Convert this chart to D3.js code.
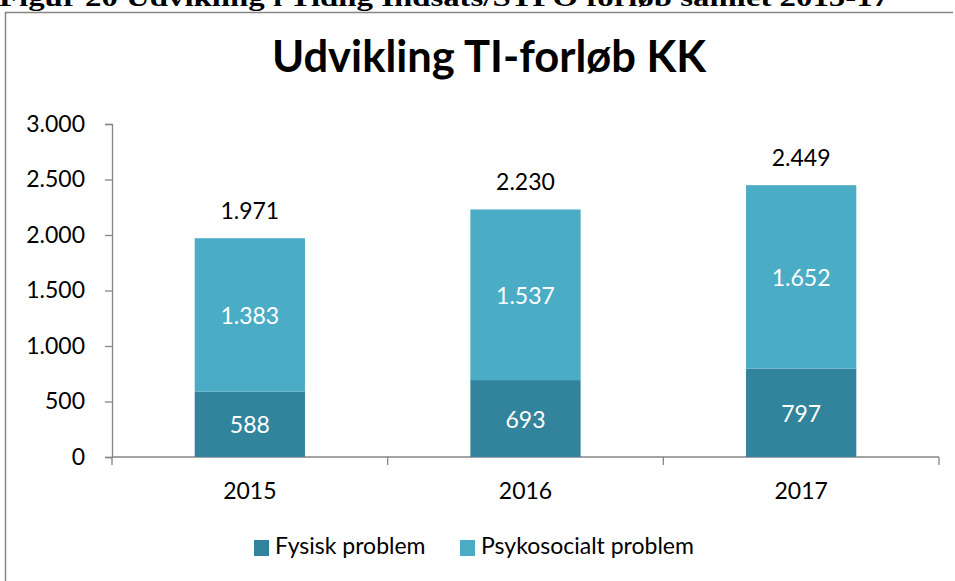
<!DOCTYPE html>
<html>
<head>
<meta charset="utf-8">
<script src="https://cdnjs.cloudflare.com/ajax/libs/d3/7.8.5/d3.min.js"></script>
<style>
  body { margin: 0; background: #fff; }
  text { font-family: Lato, "Open Sans", sans-serif; }
</style>
</head>
<body>
<div id="my_dataviz"></div>
<script>
// values
var data = [
  {year: "2015", fysisk: 588, psyko: 1383},
  {year: "2016", fysisk: 693, psyko: 1537},
  {year: "2017", fysisk: 797, psyko: 1652}
];
var keys = ["fysisk", "psyko"];
var names = {fysisk: "Fysisk problem", psyko: "Psykosocialt problem"};
var colors = {fysisk: "#31849b", psyko: "#4bacc6"};

var W = 955, H = 581;
var margin = {top: 124, right: 16, bottom: 124, left: 112},
    width = 939 - margin.left,
    height = 457 - margin.top;

var dk = d3.formatLocale({decimal: ",", thousands: ".", grouping: [3], currency: ["", " kr"]});
var fmt = dk.format(",d");

var root = d3.select("#my_dataviz")
  .append("svg")
  .attr("width", W)
  .attr("height", H);

// page heading, cut off at the top of the screenshot
root.append("text")
  .attr("x", -1)
  .attr("y", 6)
  .style("font-family", "'Liberation Serif', serif")
  .style("font-weight", "bold")
  .style("font-size", "26px")
  .attr("textLength", 890)
  .attr("lengthAdjust", "spacingAndGlyphs")
  .text("Figur 20 Udvikling i Tidlig Indsats/STPO forløb samlet 2015-17");

// chart frame (only top and left edges are inside the shot)
root.append("path")
  .attr("d", "M5.5,600 V12.5 H953")
  .attr("fill", "none")
  .attr("stroke", "#868686")
  .attr("stroke-width", 1.5);

root.append("text")
  .attr("x", 489)
  .attr("y", 72)
  .attr("text-anchor", "middle")
  .style("font-weight", "bold")
  .style("font-size", "43.5px")
  .text("Udvikling TI-forløb KK");

var svg = root.append("g")
  .attr("transform", "translate(" + margin.left + "," + margin.top + ")");

var x = d3.scaleBand()
  .domain(data.map(d => d.year))
  .range([0, width])
  .paddingInner(0.6)
  .paddingOuter(0.3);

var y = d3.scaleLinear()
  .domain([0, 3000])
  .range([height, 0]);

// y axis
var yAxis = svg.append("g")
  .call(d3.axisLeft(y).tickValues(d3.range(0, 3001, 500)).tickSize(7).tickPadding(20).tickFormat(fmt));
yAxis.select(".domain").attr("stroke", "#868686").attr("stroke-width", 1.3);
yAxis.selectAll(".tick line").attr("stroke", "#868686").attr("stroke-width", 1.3);
yAxis.selectAll(".tick text")
  .style("font-family", "Lato, sans-serif")
  .style("font-size", "23px")
  .attr("fill", "#000");

// x axis with ticks between categories
var xAxis = svg.append("g")
  .attr("transform", "translate(0," + height + ")");
xAxis.append("line")
  .attr("x1", 0).attr("x2", width)
  .attr("stroke", "#868686").attr("stroke-width", 1.3);
xAxis.selectAll(".sep")
  .data(d3.range(0, data.length + 1))
  .join("line")
  .attr("class", "sep")
  .attr("x1", i => i * x.step()).attr("x2", i => i * x.step())
  .attr("y1", 0).attr("y2", 8)
  .attr("stroke", "#868686").attr("stroke-width", 1.3);
xAxis.selectAll(".lbl")
  .data(data)
  .join("text")
  .attr("class", "lbl")
  .attr("x", d => x(d.year) + x.bandwidth() / 2)
  .attr("y", 42)
  .attr("text-anchor", "middle")
  .style("font-size", "23px")
  .text(d => d.year);

// stacked bars
var stack = d3.stack().keys(keys)(data);

var layers = svg.selectAll(".layer")
  .data(stack)
  .join("g")
  .attr("class", "layer")
  .attr("fill", d => colors[d.key]);

layers.selectAll("rect")
  .data(d => d)
  .join("rect")
  .attr("x", d => x(d.data.year))
  .attr("y", d => y(d[1]))
  .attr("width", x.bandwidth())
  .attr("height", d => y(d[0]) - y(d[1]));

layers.selectAll("text")
  .data(d => d)
  .join("text")
  .attr("x", d => x(d.data.year) + x.bandwidth() / 2)
  .attr("y", d => (y(d[0]) + y(d[1])) / 2 + 9)
  .attr("text-anchor", "middle")
  .attr("fill", "#fff")
  .style("font-size", "23px")
  .text(d => fmt(d[1] - d[0]));

// totals above bars
svg.selectAll(".total")
  .data(data)
  .join("text")
  .attr("class", "total")
  .attr("x", d => x(d.year) + x.bandwidth() / 2)
  .attr("y", d => y(d.fysisk + d.psyko) - 19)
  .attr("text-anchor", "middle")
  .style("font-size", "23px")
  .text(d => fmt(d.fysisk + d.psyko));

// legend
var legend = root.append("g");
var items = [{k: "fysisk", x: 254}, {k: "psyko", x: 460}];
legend.selectAll("rect")
  .data(items)
  .join("rect")
  .attr("x", d => d.x).attr("y", 540)
  .attr("width", 15).attr("height", 16)
  .attr("fill", d => colors[d.k]);
legend.selectAll("text")
  .data(items)
  .join("text")
  .attr("x", d => d.x + 21).attr("y", 554)
  .style("font-size", "23px")
  .text(d => names[d.k]);
</script>
</body>
</html>
